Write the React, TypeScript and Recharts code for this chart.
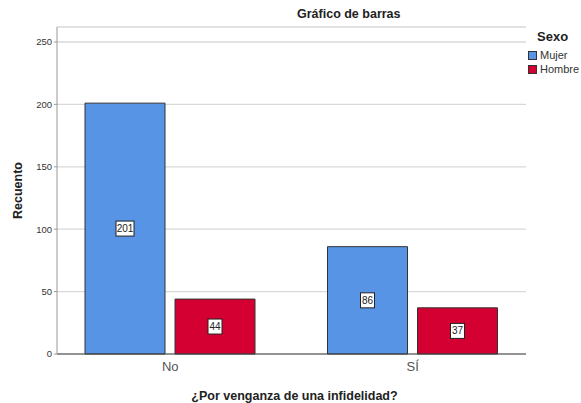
import React from 'react';
import {
  BarChart,
  Bar,
  XAxis,
  YAxis,
  CartesianGrid,
  LabelList,
} from 'recharts';

const categories = ['No', 'SÍ'];
const mujer = [201, 86];
const hombre = [44, 37];
const yTicks = [0, 50, 100, 150, 200, 250];
const seriesNames = ['Mujer', 'Hombre'];

const FONT = 'Arial, "Liberation Sans", sans-serif';
const BLUE = '#5794E5';
const RED = '#D50032';
const seriesColors = [BLUE, RED];

const data = categories.map((c, i) => ({
  cat: c,
  mujer: mujer[i],
  hombre: hombre[i],
}));

const BoxLabel = (props: any) => {
  const { x, y, width, height, value } = props;
  const cx = x + width / 2;
  const cy = y + height / 2;
  const w = String(value).length > 2 ? 18 : 14;
  return (
    <g>
      <rect
        x={cx - w / 2}
        y={cy - 7.5}
        width={w}
        height={15}
        fill="#fff"
        stroke="#222"
        strokeWidth={1}
      />
      <text
        x={cx}
        y={cy + 3.5}
        textAnchor="middle"
        fontSize={10}
        fontFamily={FONT}
        fill="#222"
      >
        {value}
      </text>
    </g>
  );
};

const LegendBox = () => (
  <div style={{ position: 'absolute', top: 29, left: 528, fontFamily: FONT }}>
    <div style={{ fontWeight: 'bold', fontSize: 13, marginLeft: 9, marginBottom: 4, color: '#222' }}>
      Sexo
    </div>
    {seriesNames.map((n, i) => (
      <div key={n} style={{ display: 'flex', alignItems: 'center', height: 14 }}>
        <span
          style={{
            width: 9,
            height: 9,
            background: seriesColors[i],
            border: '1px solid #333',
            boxSizing: 'border-box',
            marginRight: 3,
          }}
        />
        <span style={{ fontSize: 11, color: '#333' }}>{n}</span>
      </div>
    ))}
  </div>
);

const App: React.FC = () => {
  return (
    <div style={{ position: 'absolute', left: 0, top: 0, width: 581, height: 403, background: '#fff' }}>
      <div
        style={{
          position: 'absolute',
          top: 7,
          left: 297,
          fontFamily: FONT,
          fontWeight: 'bold',
          fontSize: 12.5,
          color: '#222',
        }}
      >
        Gráfico de barras
      </div>
      <BarChart
        width={581}
        height={403}
        data={data}
        margin={{ top: 27, right: 55, bottom: 19, left: 0 }}
        barGap={10}
      >
        <CartesianGrid vertical={false} stroke="#d9d9d9" strokeWidth={1.3} />
        <XAxis
          dataKey="cat"
          height={30}
          padding={{ left: -8, right: -8 }}
          stroke="#444"
          tickLine={false}
          tick={{ fill: '#555', fontSize: 13, fontFamily: FONT }}
          tickMargin={2}
          label={{
            value: '¿Por venganza de una infidelidad?',
            position: 'insideBottom',
            offset: -16,
            dx: 3,
            style: { fontFamily: FONT, fontWeight: 'bold', fontSize: 12.5, fill: '#222' },
          }}
        />
        <YAxis
          width={57}
          domain={[0, 262]}
          ticks={yTicks}
          stroke="#999"
          tickSize={3}
          tick={{ fill: '#333', fontSize: 9.5, fontFamily: FONT }}
          label={{
            value: 'Recuento',
            angle: -90,
            position: 'insideLeft',
            offset: 18,
            style: { textAnchor: 'middle', fontFamily: FONT, fontWeight: 'bold', fontSize: 12.5, fill: '#222' },
          }}
        />
        <Bar
          dataKey="mujer"
          name="Mujer"
          fill={BLUE}
          stroke="#333"
          strokeWidth={1}
          barSize={80}
          isAnimationActive={false}
        >
          <LabelList dataKey="mujer" content={<BoxLabel />} />
        </Bar>
        <Bar
          dataKey="hombre"
          name="Hombre"
          fill={RED}
          stroke="#333"
          strokeWidth={1}
          barSize={80}
          isAnimationActive={false}
        >
          <LabelList dataKey="hombre" content={<BoxLabel />} />
        </Bar>
      </BarChart>
      <LegendBox />
    </div>
  );
};

export default App;
